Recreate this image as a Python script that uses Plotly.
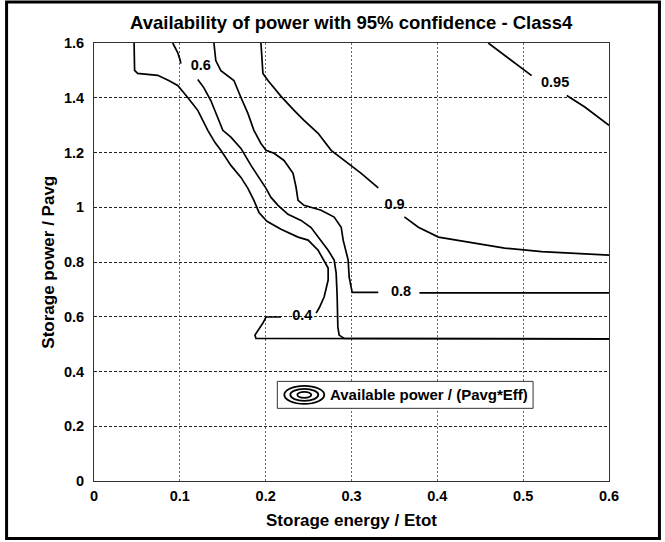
import plotly.graph_objects as go

# ---- axis ticks ----
x_ticks = [0, 0.1, 0.2, 0.3, 0.4, 0.5, 0.6]
x_ticklabels = ["0", "0.1", "0.2", "0.3", "0.4", "0.5", "0.6"]
y_ticks = [0, 0.2, 0.4, 0.6, 0.8, 1.0, 1.2, 1.4, 1.6]
y_ticklabels = ["0", "0.2", "0.4", "0.6", "0.8", "1", "1.2", "1.4", "1.6"]

# ---- contour level 0.4 (None = break where the label sits) ----
c04_x = [0.0467, 0.0473, 0.0508, 0.0742, 0.0870, 0.0975, 0.1092, 0.1209, 0.1326, 0.1408,
         0.1478, 0.1595, 0.1712, 0.1793, 0.1863, 0.1922, 0.2015, 0.2179, 0.2377, 0.2494,
         0.2611, 0.2681, 0.2728, 0.2728, 0.2681, 0.2623, 0.2588, None,
         0.2179, 0.2004, 0.1968, 0.1875, 0.1887, 0.6]
c04_y = [1.600, 1.500, 1.489, 1.482, 1.463, 1.445, 1.401, 1.354, 1.281, 1.237,
         1.208, 1.153, 1.109, 1.069, 1.025, 0.981, 0.949, 0.920, 0.891, 0.880,
         0.843, 0.807, 0.778, 0.734, 0.672, 0.632, 0.613, None,
         0.599, 0.599, 0.577, 0.533, 0.521, 0.519]

# ---- contour level 0.6 ----
c06_x = [0.0917, 0.0975, 0.1005, 0.1011, None,
         0.1209, 0.1279, 0.1361, 0.1419, 0.1501, 0.1595, 0.1712, 0.1829, 0.1945, 0.2004,
         0.2062, 0.2144, 0.2260, 0.2412, 0.2529, 0.2611, 0.2728, 0.2798, 0.2821, 0.2833,
         0.2841, 0.2856, 0.2915, 0.6]
c06_y = [1.600, 1.565, 1.536, 1.525, None,
         1.467, 1.437, 1.390, 1.342, 1.281, 1.256, 1.215, 1.153, 1.098, 1.069,
         1.036, 1.007, 0.974, 0.952, 0.926, 0.891, 0.843, 0.807, 0.760, 0.672,
         0.563, 0.533, 0.521, 0.519]

# ---- contour level 0.8 ----
c08_x = [0.1397, 0.1419, 0.1478, 0.1630, 0.1712, 0.1793, 0.1863, 0.1945, 0.2004, 0.2097,
         0.2214, 0.2319, 0.2354, 0.2377, 0.2447, 0.2646, 0.2798, 0.2880, 0.2903, 0.2961,
         0.2973, 0.2997, 0.3008, 0.3312, None, 0.3791, 0.6]
c08_y = [1.600, 1.536, 1.499, 1.463, 1.401, 1.343, 1.281, 1.233, 1.208, 1.197,
         1.171, 1.124, 1.073, 1.025, 1.007, 0.989, 0.964, 0.927, 0.880, 0.807,
         0.745, 0.698, 0.689, 0.689, None, 0.687, 0.687]

# ---- contour level 0.9 ----
c09_x = [0.1945, 0.1957, 0.1968, 0.2027, 0.2179, 0.2331, 0.2447, 0.2611, 0.2763, 0.2961,
         0.3113, 0.3312, None, 0.3616, 0.3779, 0.4013, 0.4363, 0.4784, 0.5216, 0.5625, 0.6]
c09_y = [1.600, 1.536, 1.489, 1.463, 1.405, 1.354, 1.317, 1.270, 1.208, 1.160,
         1.124, 1.071, None, 0.965, 0.927, 0.891, 0.873, 0.851, 0.838, 0.830, 0.825]

# ---- contour level 0.95 ----
c095_x = [0.4593, 0.4866, 0.5099, None, 0.5508, 0.5718, 0.6]
c095_y = [1.600, 1.536, 1.481, None, 1.408, 1.366, 1.299]

# ---- contour labels ----
label_text = ["0.4", "0.6", "0.8", "0.9", "0.95"]
label_x = [0.2427, 0.1244, 0.3577, 0.3502, 0.5372]
label_y = [0.600, 1.514, 0.688, 1.007, 1.451]

FONT = "Liberation Sans, Arial, sans-serif"

fig = go.Figure()
for xs, ys in [(c04_x, c04_y), (c06_x, c06_y), (c08_x, c08_y), (c09_x, c09_y), (c095_x, c095_y)]:
    fig.add_trace(go.Scatter(x=xs, y=ys, mode="lines", connectgaps=False,
                             line=dict(color="black", width=1.7), showlegend=False,
                             hoverinfo="skip"))

fig.add_trace(go.Scatter(x=label_x, y=label_y, mode="text", text=label_text,
                         textfont=dict(family=FONT, size=14.5, color="black", weight="bold"),
                         textposition="middle center", showlegend=False, hoverinfo="skip"))

# plot-area geometry in page pixels
L, R, T, B = 93.5, 609.0, 42.5, 481.3
W, H = R - L, B - T
FIG_W, FIG_H = 665, 542


def px(x):
    return (x - L) / W


def py(y):
    return (B - y) / H


shapes = [
    # outer figure frame
    dict(type="rect", xref="paper", yref="paper", x0=px(6), x1=px(659.5), y0=py(539), y1=py(1.5),
         line=dict(color="black", width=3), layer="above"),
    # legend box
    dict(type="rect", xref="paper", yref="paper", x0=px(277), x1=px(533), y0=py(408.5), y1=py(381.5),
         line=dict(color="#333", width=1), fillcolor="white", layer="above"),
    # legend contour icon (concentric ellipses)
    dict(type="circle", xref="paper", yref="paper", x0=px(284), x1=px(324), y0=py(404), y1=py(386),
         line=dict(color="black", width=1.8), layer="above"),
    dict(type="circle", xref="paper", yref="paper", x0=px(290), x1=px(318), y0=py(401), y1=py(389),
         line=dict(color="black", width=1.8), layer="above"),
    dict(type="circle", xref="paper", yref="paper", x0=px(297), x1=px(311), y0=py(398), y1=py(392),
         line=dict(color="black", width=1.8), layer="above"),
]

annotations = [
    dict(text="Availability of power with 95% confidence - Class4", xref="paper", yref="paper",
         x=px(351), y=py(22), xanchor="center", yanchor="middle", showarrow=False,
         font=dict(family=FONT, size=18.5, color="black", weight="bold")),
    dict(text="Storage energy / Etot", xref="paper", yref="paper",
         x=px(351), y=py(521), xanchor="center", yanchor="middle", showarrow=False,
         font=dict(family=FONT, size=17, color="black", weight="bold")),
    dict(text="Storage power / Pavg", xref="paper", yref="paper", textangle=-90,
         x=px(48), y=py(262), xanchor="center", yanchor="middle", showarrow=False,
         font=dict(family=FONT, size=17, color="black", weight="bold")),
    dict(text="Available power / (Pavg*Eff)", xref="paper", yref="paper",
         x=px(328), y=py(395), xanchor="left", yanchor="middle", showarrow=False,
         font=dict(family=FONT, size=15, color="black", weight="bold")),
]

fig.update_layout(
    width=FIG_W, height=FIG_H,
    margin=dict(l=L, r=FIG_W - R, t=T, b=FIG_H - B, pad=0),
    paper_bgcolor="white", plot_bgcolor="white",
    shapes=shapes, annotations=annotations,
    showlegend=False, hovermode=False,
    font=dict(family=FONT, color="black"),
)
fig.update_xaxes(range=[0, 0.6], tickvals=x_ticks, ticktext=x_ticklabels,
                 showgrid=True, gridcolor="#666", griddash="2px,2px", gridwidth=1,
                 showline=True, mirror=True, linecolor="#333", linewidth=1,
                 zeroline=False, ticks="", ticklabelstandoff=2,
                 tickfont=dict(family=FONT, size=14.5, color="black", weight="bold"))
fig.update_yaxes(range=[0, 1.6], tickvals=y_ticks, ticktext=y_ticklabels,
                 showgrid=True, gridcolor="#222", griddash="3px,2px", gridwidth=1,
                 showline=True, mirror=True, linecolor="#333", linewidth=1,
                 zeroline=False, ticks="", ticklabelstandoff=6,
                 tickfont=dict(family=FONT, size=14.5, color="black", weight="bold"))

fig.write_html("out.html", config={"displayModeBar": False, "staticPlot": True},
               post_script="document.body.style.margin='0';document.body.style.overflow='hidden';")
